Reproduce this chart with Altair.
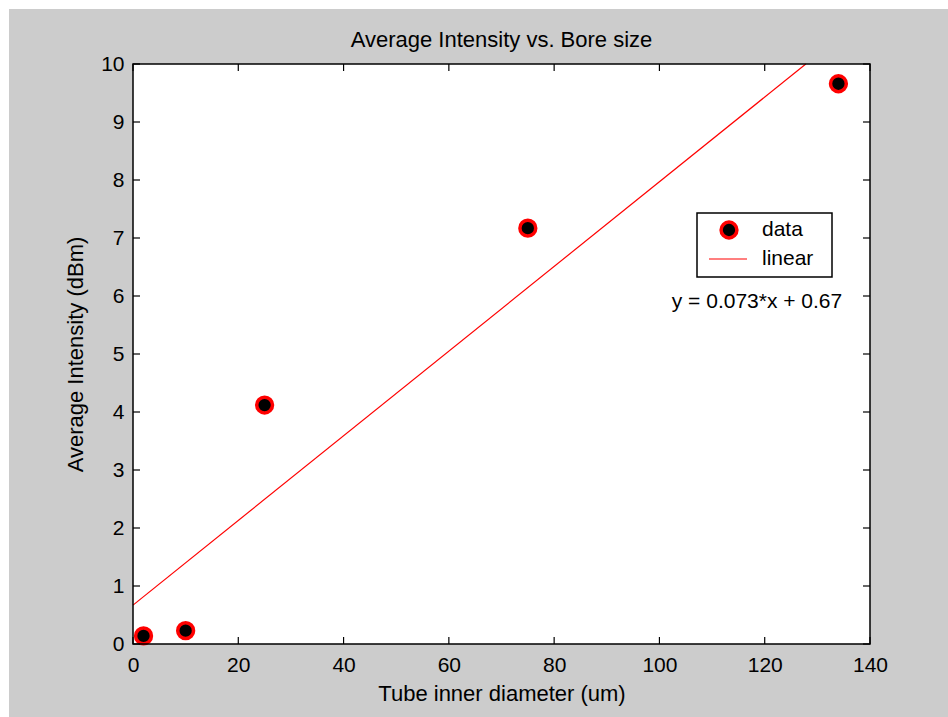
import altair as alt
import pandas as pd

# Measured data: tube bore vs. average intensity
bore_um = [2, 10, 25, 75, 134]
intensity_dbm = [0.14, 0.23, 4.12, 7.17, 9.66]

# Linear fit, as printed in the annotation
fit_slope = 0.073
fit_intercept = 0.67
fit_label = "y = 0.073*x + 0.67"

chart_title = "Average Intensity vs. Bore size"

x_domain = [0, 140]
y_domain = [0, 10]
x_ticks = [0, 20, 40, 60, 80, 100, 120, 140]
y_ticks = [0, 1, 2, 3, 4, 5, 6, 7, 8, 9, 10]

legend_labels = ["data", "linear"]

FONT = "Liberation Sans"
W, H = 737, 580
TICK = 7

points_df = pd.DataFrame({"x": bore_um, "y": intensity_dbm})
# fitted line from x=0 until it leaves the top of the axes
x_end = (y_domain[1] - fit_intercept) / fit_slope
fit_df = pd.DataFrame({
    "x": [x_domain[0], x_end],
    "y": [fit_intercept + fit_slope * x_domain[0], y_domain[1]],
})
xt_df = pd.DataFrame({"x": x_ticks})
yt_df = pd.DataFrame({"y": y_ticks})
one = alt.Data(values=[{}])

xs = alt.Scale(domain=x_domain, nice=False, zero=False)
ys = alt.Scale(domain=y_domain, nice=False, zero=False)

ax_x = alt.Axis(
    values=x_ticks, title="Tube inner diameter (um)", grid=False, domain=False,
    ticks=False, labelFlush=False, labelOverlap=False, labelPadding=10,
    labelFontSize=21, labelFont=FONT, labelColor="black",
    titleFontSize=22, titleFont=FONT, titleFontWeight="normal", titleColor="black",
    titleBaseline="alphabetic", titleY=56, titleX=W / 2, titleAlign="center",
    zindex=1,
)
ax_y = alt.Axis(
    values=y_ticks, title="Average Intensity (dBm)", grid=False, domain=False,
    ticks=False, labelFlush=False, labelOverlap=False, labelPadding=9,
    labelFontSize=21, labelFont=FONT, labelColor="black",
    titleFontSize=22, titleFont=FONT, titleFontWeight="normal", titleColor="black",
    titleBaseline="alphabetic", titleX=-51, titleY=H / 2, titleAlign="center",
    titleAngle=270, zindex=1,
)

X = alt.X("x:Q", scale=xs, axis=ax_x)
Y = alt.Y("y:Q", scale=ys, axis=ax_y)

# figure background (grey window) and white axes area
figure_bg = alt.Chart(one).mark_rect(color="#cccccc").encode(
    x=alt.value(-124), x2=alt.value(948 - 133),
    y=alt.value(-55), y2=alt.value(717 - 64),
)
axes_bg = alt.Chart(one).mark_rect(color="white").encode(
    x=alt.value(0), x2=alt.value(W), y=alt.value(0), y2=alt.value(H),
)

fit_line = alt.Chart(fit_df).mark_line(color="#ff0000", strokeWidth=1.2).encode(x=X, y=Y)

marker_style = dict(
    shape="circle", filled=True, fill="black", fillOpacity=1,
    stroke="#ff0000", strokeWidth=3.5, size=250, opacity=1,
)
points = alt.Chart(points_df).mark_point(**marker_style).encode(x=X, y=Y)

# inward ticks on all four sides
x_ticks_bottom = alt.Chart(xt_df).mark_rule(color="black", strokeWidth=1.2).encode(
    x=X, y=alt.value(H), y2=alt.value(H - TICK))
x_ticks_top = alt.Chart(xt_df).mark_rule(color="black", strokeWidth=1.2).encode(
    x=X, y=alt.value(0), y2=alt.value(TICK))
y_ticks_left = alt.Chart(yt_df).mark_rule(color="black", strokeWidth=1.2).encode(
    y=Y, x=alt.value(0), x2=alt.value(TICK))
y_ticks_right = alt.Chart(yt_df).mark_rule(color="black", strokeWidth=1.2).encode(
    y=Y, x=alt.value(W), x2=alt.value(W - TICK))

frame = alt.Chart(one).mark_rect(fillOpacity=0, stroke="black", strokeWidth=1.5).encode(
    x=alt.value(0), x2=alt.value(W), y=alt.value(0), y2=alt.value(H),
)

# legend box
leg_box = alt.Chart(one).mark_rect(fill="white", stroke="black", strokeWidth=1.5).encode(
    x=alt.value(564), x2=alt.value(699), y=alt.value(149), y2=alt.value(213),
)
leg_marker = alt.Chart(one).mark_point(**marker_style).encode(x=alt.value(596), y=alt.value(166))
leg_line = alt.Chart(one).mark_rule(color="#ff0000", strokeWidth=1.2).encode(
    x=alt.value(576), x2=alt.value(614), y=alt.value(195),
)
leg_text_data = alt.Chart(one).mark_text(
    text=legend_labels[0], align="left", baseline="middle", font=FONT, fontSize=21, color="black",
).encode(x=alt.value(629), y=alt.value(166))
leg_text_lin = alt.Chart(one).mark_text(
    text=legend_labels[1], align="left", baseline="middle", font=FONT, fontSize=21, color="black",
).encode(x=alt.value(629), y=alt.value(195))

equation = alt.Chart(one).mark_text(
    text=fit_label, align="center", baseline="middle", font=FONT, fontSize=21, color="black",
).encode(x=alt.value(624), y=alt.value(238))

# title centred over the axes
title_text = alt.Chart(one).mark_text(
    text=chart_title, align="center", baseline="alphabetic", font=FONT, fontSize=22, color="black",
).encode(x=alt.value(W / 2), y=alt.value(-17))

chart = alt.layer(
    figure_bg, axes_bg, fit_line, points,
    x_ticks_bottom, x_ticks_top, y_ticks_left, y_ticks_right, frame,
    leg_box, leg_marker, leg_line, leg_text_data, leg_text_lin, equation, title_text,
).properties(
    width=W, height=H,
    padding={"left": 133, "top": 64, "right": 78, "bottom": 73},
    autosize=alt.AutoSizeParams(type="none"),
    background="white",
).configure_view(stroke=None)

chart.save("out.html", embed_options={"renderer": "svg", "actions": False})
